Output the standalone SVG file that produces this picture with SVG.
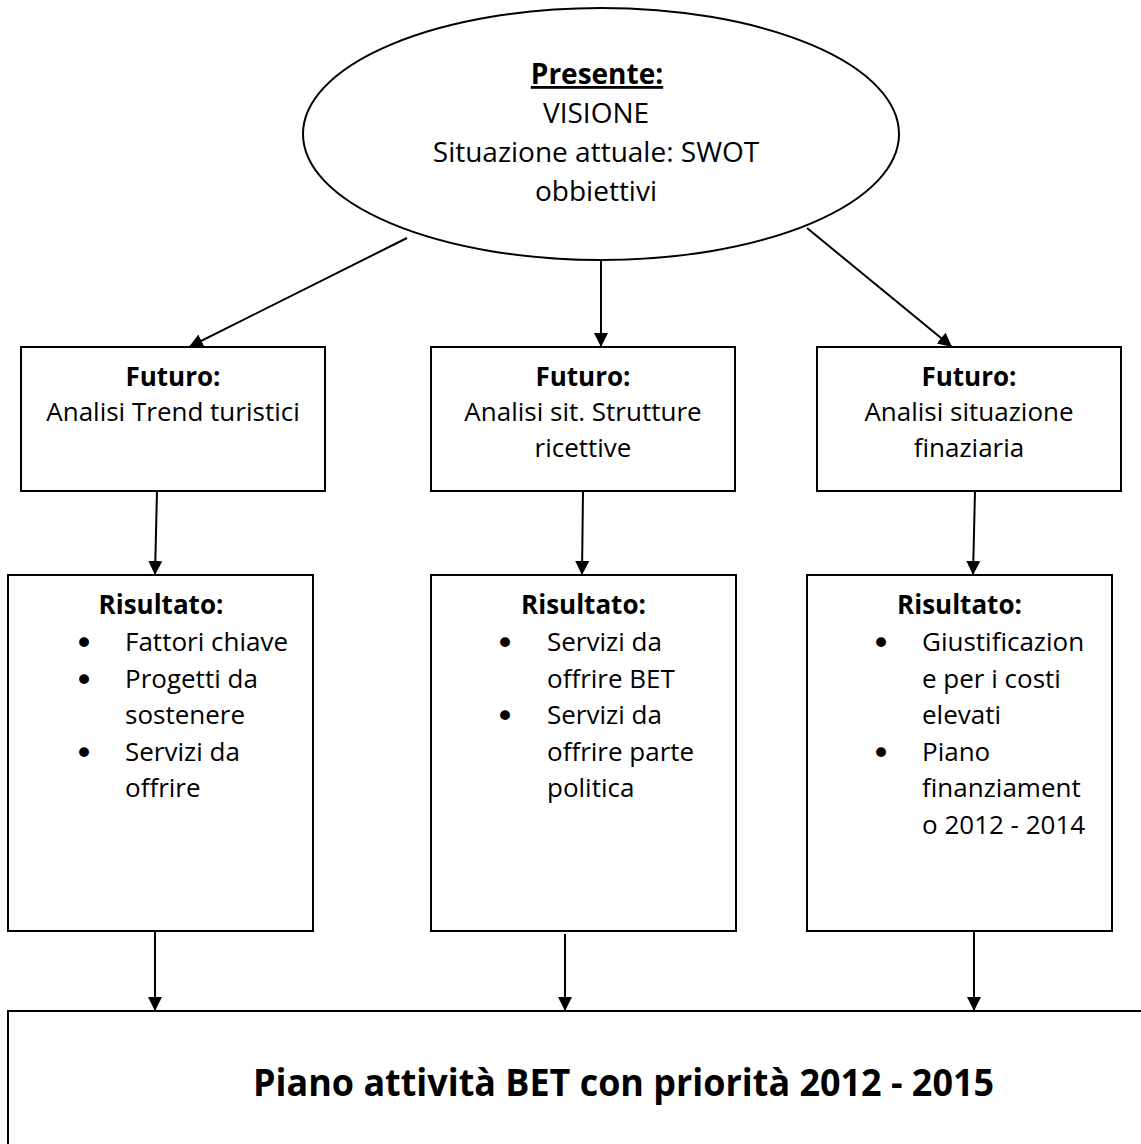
<svg xmlns="http://www.w3.org/2000/svg" width="1141" height="1144" viewBox="0 0 1141 1144">
<defs>
<style>
.shape{fill:#fff;stroke:#000;stroke-width:2}
.t{font-family:"Open Sans","Liberation Sans",sans-serif;font-size:26px;fill:#000}
.e{font-size:28px}
.title{font-size:38px}
.c{text-anchor:middle}
.b{font-weight:bold}
.bul{font-family:"DejaVu Sans",sans-serif;font-size:34px;text-anchor:middle;fill:#000}
.conn{stroke:#000;stroke-width:2;fill:none;marker-end:url(#arr)}
</style>
<marker id="arr" markerUnits="userSpaceOnUse" markerWidth="14" markerHeight="14" viewBox="0 0 14 14" refX="14" refY="7" orient="auto">
<path d="M0,0 L14,7 L0,14 Z" fill="#000"/>
</marker>
</defs>
<rect width="1141" height="1144" fill="#fff"/>

<g id="presente">
<ellipse class="shape" cx="601" cy="134" rx="298" ry="126" stroke-width="1.5"/>
<text class="t e c b" x="597" y="84" text-decoration="underline">Presente:</text>
<text class="t e c" x="596" y="123">VISIONE</text>
<text class="t e c" x="596" y="162">Situazione attuale: SWOT</text>
<text class="t e c" x="596" y="201">obbiettivi</text>
</g>

<g id="futuro1">
<rect class="shape" x="21" y="347" width="304" height="144"/>
<text class="t c b" x="173" y="386">Futuro:</text>
<text class="t c" x="173" y="421">Analisi Trend turistici</text>
</g>

<g id="futuro2">
<rect class="shape" x="431" y="347" width="304" height="144"/>
<text class="t c b" x="583" y="386">Futuro:</text>
<text class="t c" x="583" y="421">Analisi sit. Strutture</text>
<text class="t c" x="583" y="457">ricettive</text>
</g>

<g id="futuro3">
<rect class="shape" x="817" y="347" width="304" height="144"/>
<text class="t c b" x="969" y="386">Futuro:</text>
<text class="t c" x="969" y="421">Analisi situazione</text>
<text class="t c" x="969" y="457">finaziaria</text>
</g>

<g id="risultato1">
<rect class="shape" x="8" y="575" width="305" height="356"/>
<text class="t c b" x="161" y="614">Risultato:</text>
<text class="bul" x="84" y="655">•</text>
<text class="t" x="125" y="651">Fattori chiave</text>
<text class="bul" x="84" y="692">•</text>
<text class="t" x="125" y="687.5">Progetti da</text>
<text class="t" x="125" y="724">sostenere</text>
<text class="bul" x="84" y="765">•</text>
<text class="t" x="125" y="760.5">Servizi da</text>
<text class="t" x="125" y="797">offrire</text>
</g>

<g id="risultato2">
<rect class="shape" x="431" y="575" width="305" height="356"/>
<text class="t c b" x="583.5" y="614">Risultato:</text>
<text class="bul" x="505" y="655">•</text>
<text class="t" x="547" y="651">Servizi da</text>
<text class="t" x="547" y="687.5">offrire BET</text>
<text class="bul" x="505" y="728">•</text>
<text class="t" x="547" y="724">Servizi da</text>
<text class="t" x="547" y="760.5">offrire parte</text>
<text class="t" x="547" y="797">politica</text>
</g>

<g id="risultato3">
<rect class="shape" x="807" y="575" width="305" height="356"/>
<text class="t c b" x="959.5" y="614">Risultato:</text>
<text class="bul" x="881" y="655">•</text>
<text class="t" x="922" y="651">Giustificazion</text>
<text class="t" x="922" y="687.5">e per i costi</text>
<text class="t" x="922" y="724">elevati</text>
<text class="bul" x="881" y="765">•</text>
<text class="t" x="922" y="760.5">Piano</text>
<text class="t" x="922" y="797">finanziament</text>
<text class="t" x="922" y="833.5">o 2012 - 2014</text>
</g>

<g id="piano">
<rect class="shape" x="8" y="1011" width="1160" height="200"/>
<text class="t b title" x="253" y="1096" textLength="741" lengthAdjust="spacingAndGlyphs">Piano attività BET con priorità 2012 - 2015</text>
</g>

<g id="connectors">
<line class="conn" x1="407" y1="238" x2="189" y2="347"/>
<line class="conn" x1="601" y1="261" x2="601" y2="347"/>
<line class="conn" x1="807" y1="228" x2="952" y2="347"/>
<line class="conn" x1="157" y1="491" x2="155" y2="575"/>
<line class="conn" x1="583" y1="491" x2="582" y2="575"/>
<line class="conn" x1="975" y1="491" x2="973" y2="575"/>
<line class="conn" x1="155" y1="931" x2="155" y2="1011"/>
<line class="conn" x1="565" y1="934" x2="565" y2="1011"/>
<line class="conn" x1="974" y1="931" x2="974" y2="1011"/>
</g>
</svg>
